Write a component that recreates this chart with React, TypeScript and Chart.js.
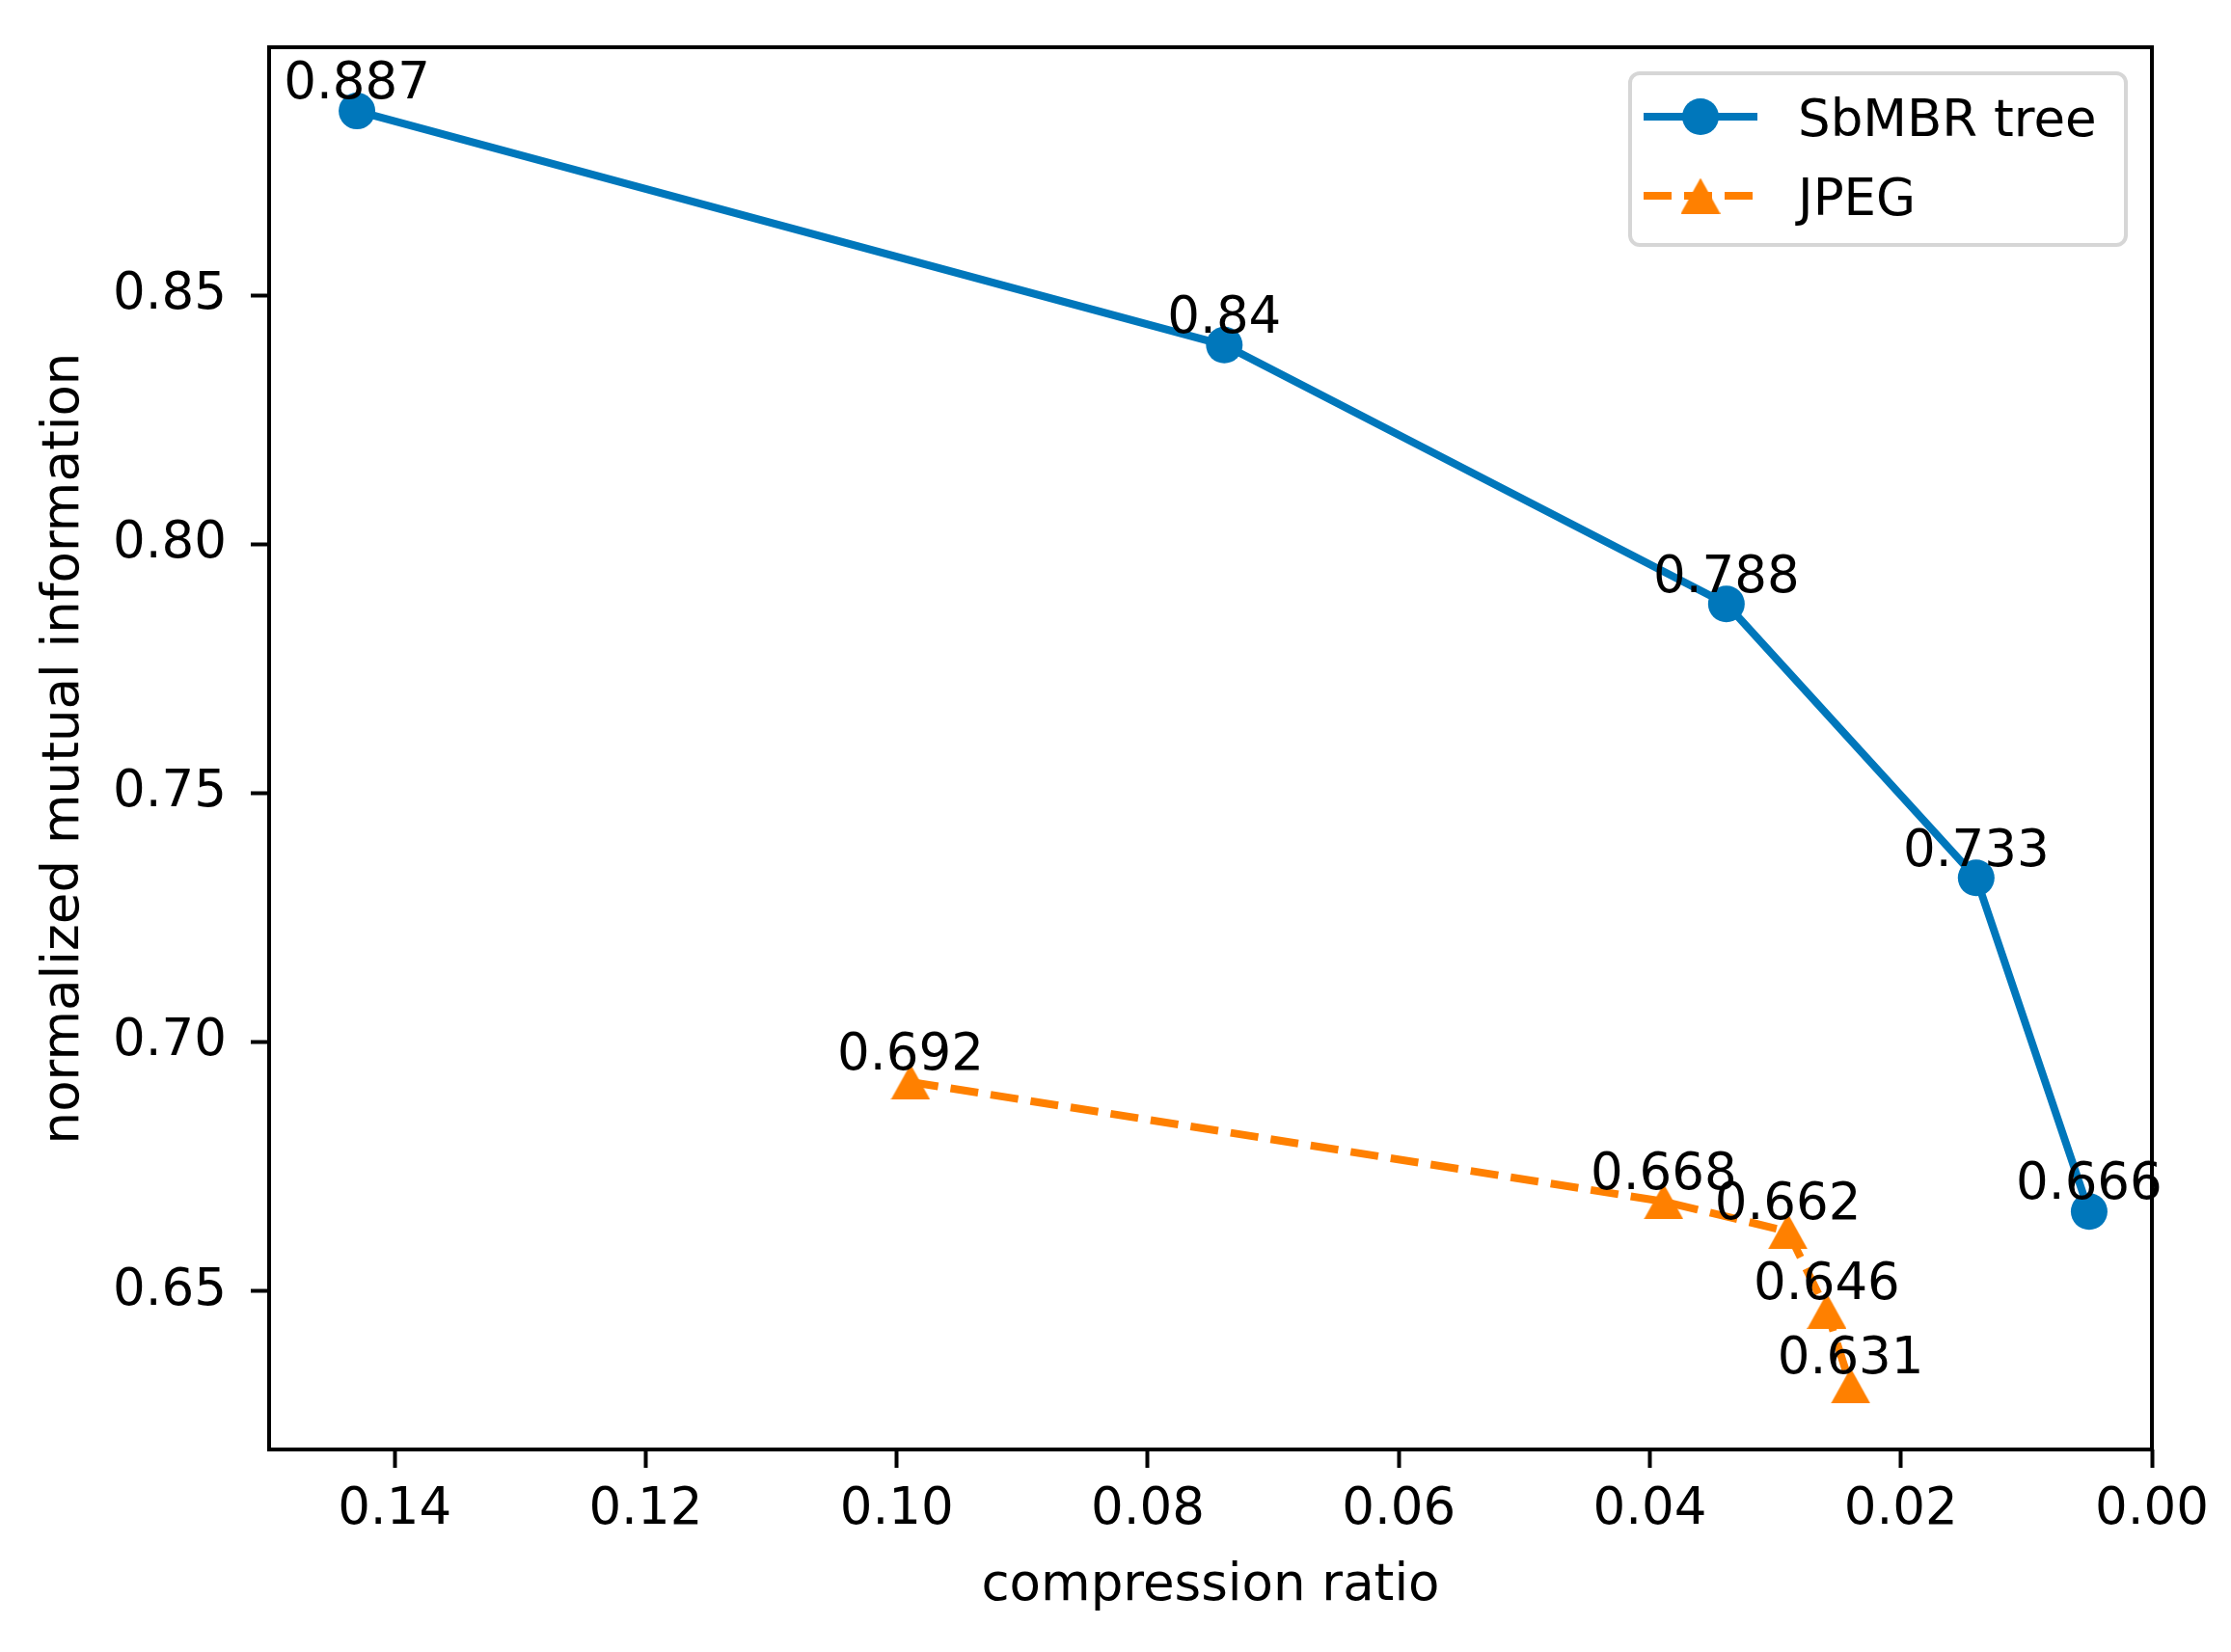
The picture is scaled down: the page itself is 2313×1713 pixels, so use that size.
import { useEffect, useRef } from "react";
import { Chart, registerables, type Plugin } from "chart.js";

Chart.register(...registerables);

// compression ratio (x) and normalized mutual information (y)
const sbmbrRatio = [0.143, 0.0739, 0.0339, 0.014, 0.005];
const sbmbrNmi = [0.887, 0.84, 0.788, 0.733, 0.666];
const jpegRatio = [0.0989, 0.0389, 0.029, 0.0259, 0.024];
const jpegNmi = [0.692, 0.668, 0.662, 0.646, 0.631];
const seriesNames = ["SbMBR tree", "JPEG"];

const xMin = 0;
const xMax = 0.15;
const xStep = 0.02;
const yStep = 0.05;

const BLUE = "#0077bb";
const ORANGE = "#ff8000";
const FONT = "DejaVu Sans";
const FS = 53;

function triangleImage(w: number, h: number, color: string) {
  const c = document.createElement("canvas");
  c.width = w;
  c.height = h;
  const ctx = c.getContext("2d")!;
  ctx.fillStyle = color;
  ctx.beginPath();
  ctx.moveTo(w / 2, 0);
  ctx.lineTo(w, h);
  ctx.lineTo(0, h);
  ctx.closePath();
  ctx.fill();
  return c;
}

const framePlugin: Plugin = {
  id: "frame",
  afterDatasetsDraw(chart) {
    const { ctx, chartArea: a } = chart;
    ctx.save();
    ctx.strokeStyle = "#000";
    ctx.lineWidth = 4;
    ctx.strokeRect(a.left, a.top, a.right - a.left, a.bottom - a.top);
    ctx.restore();
  },
};

const valueLabels: Plugin = {
  id: "valueLabels",
  afterDatasetsDraw(chart) {
    const { ctx } = chart;
    ctx.save();
    ctx.font = `${FS}px "${FONT}"`;
    ctx.fillStyle = "#000";
    ctx.textAlign = "center";
    ctx.textBaseline = "bottom";
    chart.data.datasets.forEach((ds, i) => {
      const meta = chart.getDatasetMeta(i);
      (ds.data as { x: number; y: number }[]).forEach((p, j) => {
        const el = meta.data[j];
        ctx.fillText(String(p.y), el.x, el.y);
      });
    });
    ctx.restore();
  },
};

function legendPlugin(tri: HTMLCanvasElement): Plugin {
  return {
    id: "mplLegend",
    afterDraw(chart) {
      const { ctx } = chart;
      const box = { x: 1690, y: 76, w: 514, h: 178 };
      ctx.save();
      ctx.fillStyle = "rgba(255,255,255,0.8)";
      ctx.strokeStyle = "#d6d6d6";
      ctx.lineWidth = 4;
      ctx.beginPath();
      ctx.roundRect(box.x, box.y, box.w, box.h, 10);
      ctx.fill();
      ctx.stroke();

      const x0 = 1704;
      const x1 = 1822;
      const xm = (x0 + x1) / 2;
      const rows = [121, 203];

      // SbMBR tree
      ctx.strokeStyle = BLUE;
      ctx.lineWidth = 8;
      ctx.beginPath();
      ctx.moveTo(x0, rows[0]);
      ctx.lineTo(x1, rows[0]);
      ctx.stroke();
      ctx.fillStyle = BLUE;
      ctx.beginPath();
      ctx.arc(xm, rows[0], 19, 0, Math.PI * 2);
      ctx.fill();

      // JPEG
      ctx.strokeStyle = ORANGE;
      ctx.setLineDash([29, 13]);
      ctx.beginPath();
      ctx.moveTo(x0, rows[1]);
      ctx.lineTo(x1, rows[1]);
      ctx.stroke();
      ctx.setLineDash([]);
      ctx.drawImage(tri, xm - tri.width / 2, rows[1] - tri.height / 2);

      ctx.fillStyle = "#000";
      ctx.font = `${FS}px "${FONT}"`;
      ctx.textAlign = "left";
      ctx.textBaseline = "alphabetic";
      ctx.fillText(seriesNames[0], 1864, 141);
      ctx.fillText(seriesNames[1], 1864, 223);
      ctx.restore();
    },
  };
}

export default function App() {
  const ref = useRef<HTMLCanvasElement | null>(null);
  const chartRef = useRef<Chart | null>(null);

  useEffect(() => {
    const el = ref.current;
    if (!el) return;
    chartRef.current?.destroy();

    Chart.defaults.font.family = FONT;
    Chart.defaults.color = "#000";

    const allY = [...sbmbrNmi, ...jpegNmi];
    const lo = Math.min(...allY);
    const hi = Math.max(...allY);
    const pad = (hi - lo) * 0.05;

    const tri = triangleImage(41, 37, ORANGE);

    chartRef.current = new Chart(el, {
      type: "scatter",
      data: {
        datasets: [
          {
            label: seriesNames[0],
            data: sbmbrRatio.map((x, i) => ({ x, y: sbmbrNmi[i] })),
            showLine: true,
            borderColor: BLUE,
            backgroundColor: BLUE,
            borderWidth: 8,
            pointStyle: "circle",
            pointRadius: 19,
            pointBorderWidth: 0,
            pointBackgroundColor: BLUE,
          },
          {
            label: seriesNames[1],
            data: jpegRatio.map((x, i) => ({ x, y: jpegNmi[i] })),
            showLine: true,
            borderColor: ORANGE,
            backgroundColor: ORANGE,
            borderWidth: 8,
            borderDash: [29, 13],
            pointStyle: tri,
            pointRadius: 20,
            pointBorderWidth: 0,
          },
        ],
      },
      options: {
        animation: false,
        responsive: true,
        maintainAspectRatio: false,
        layout: { padding: { top: 49, right: 82, bottom: 0, left: 0 } },
        plugins: {
          legend: { display: false },
          tooltip: { enabled: false },
        },
        scales: {
          x: {
            type: "linear",
            reverse: true,
            min: xMin,
            max: xMax,
            afterFit: (s) => {
              s.height = 210;
              s.paddingLeft = 0;
              s.paddingRight = 0;
            },
            border: { display: false },
            grid: {
              drawOnChartArea: false,
              drawTicks: true,
              tickLength: 19,
              tickWidth: 4,
              tickColor: "#000",
            },
            ticks: {
              stepSize: xStep,
              includeBounds: false,
              autoSkip: false,
              maxRotation: 0,
              padding: 12,
              color: "#000",
              font: { size: FS },
              callback: (v) => Number(v).toFixed(2),
            },
            title: {
              display: true,
              text: "compression ratio",
              color: "#000",
              font: { size: FS },
              padding: { top: 0, bottom: 36 },
            },
          },
          y: {
            type: "linear",
            min: lo - pad,
            max: hi + pad,
            afterFit: (s) => {
              s.width = 279;
              s.paddingTop = 0;
              s.paddingBottom = 0;
            },
            border: { display: false },
            grid: {
              drawOnChartArea: false,
              drawTicks: true,
              tickLength: 19,
              tickWidth: 4,
              tickColor: "#000",
            },
            ticks: {
              stepSize: yStep,
              includeBounds: false,
              autoSkip: false,
              padding: 25,
              color: "#000",
              font: { size: FS },
              callback: (v) => Number(v).toFixed(2),
            },
            title: {
              display: true,
              text: "normalized mutual information",
              color: "#000",
              font: { size: FS },
              padding: { top: 35, bottom: 0 },
            },
          },
        },
      },
      plugins: [framePlugin, valueLabels, legendPlugin(tri)],
    });

    return () => {
      chartRef.current?.destroy();
      chartRef.current = null;
    };
  }, []);

  return (
    <div style={{ position: "absolute", left: 0, top: 0, width: 2313, height: 1713, background: "#fff" }}>
      <canvas ref={ref} />
    </div>
  );
}
